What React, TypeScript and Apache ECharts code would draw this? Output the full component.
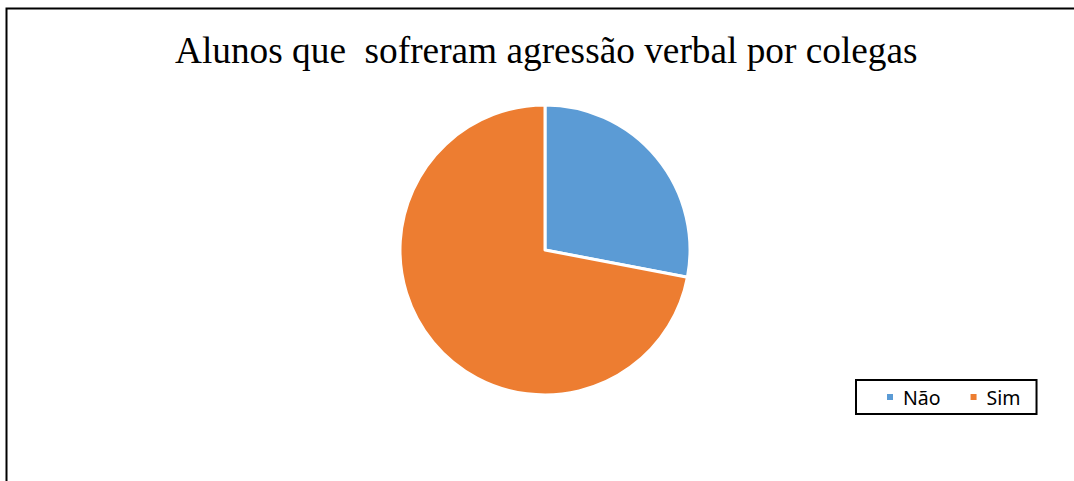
import React, { useEffect, useRef } from "react";
import * as echarts from "echarts";

const titleText = "Alunos que\u00a0 sofreram agressão verbal por colegas";
const categories = ["Não", "Sim"];
const values = [28, 72];
const colors = ["#5B9BD5", "#ED7D31"];

export default function App() {
  const ref = useRef<HTMLDivElement>(null);
  useEffect(() => {
    if (!ref.current) return;
    const chart = echarts.init(ref.current, null, { renderer: "svg" });
    chart.setOption({
      animation: false,
      backgroundColor: "#ffffff",
      title: {
        text: titleText,
        left: 170,
        top: 27,
        textStyle: {
          fontFamily: "Liberation Serif",
          fontWeight: "normal",
          fontSize: 37.3,
          color: "#000",
        },
      },
      graphic: [
        {
          type: "rect",
          shape: { x: 6.5, y: 8.5, width: 1200, height: 600 },
          style: { fill: "none", stroke: "#000", lineWidth: 2 },
          silent: true,
        },
      ],
      legend: {
        data: categories,
        left: 856,
        top: 380,
        orient: "horizontal",
        icon: "rect",
        itemWidth: 8,
        itemHeight: 8,
        itemGap: 28,
        padding: [7, 16, 7, 29],
        borderColor: "#000",
        borderWidth: 2,
        textStyle: { fontFamily: "Noto Sans", fontSize: 19.5, color: "#000", padding: [0, 0, 0, 4] },
      },
      series: [
        {
          type: "pie",
          center: [545, 250],
          radius: 145,
          startAngle: 90,
          clockwise: true,
          label: { show: false },
          labelLine: { show: false },
          itemStyle: { borderColor: "#fff", borderWidth: 3 },
          data: categories.map((c, i) => ({
            name: c,
            value: values[i],
            itemStyle: { color: colors[i] },
          })),
        },
      ],
    });
    return () => chart.dispose();
  }, []);
  return (
    <div
      ref={ref}
      style={{ position: "fixed", left: 0, top: 0, width: 1074, height: 481 }}
    />
  );
}
